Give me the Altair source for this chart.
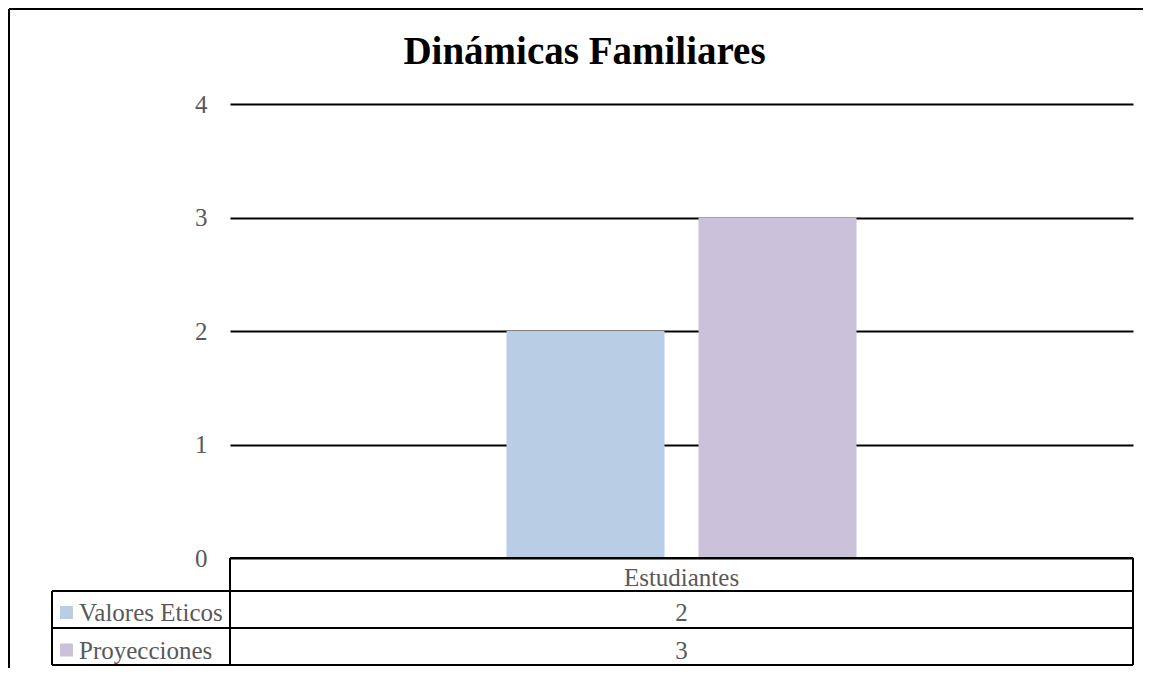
import altair as alt
import pandas as pd

# ---- data ----
categories = ["Estudiantes"]
series = ["Valores Eticos", "Proyecciones"]
values = [2, 3]
colors = ["#B9CDE5", "#CCC1DA"]
y_ticks = [0, 1, 2, 3, 4]
title_text = "Dinámicas Familiares"

df = pd.DataFrame({"cat": [categories[0]] * len(series), "serie": series, "valor": values})
cat_df = pd.DataFrame({"cat": categories})

FONT = "Liberation Serif"
GRAY = "#595959"
W, H = 903, 454
PAD_R = 10
PAD_B = 110
ROW_Y = {series[0]: 517, series[1]: 555}   # text baselines of table rows (pixels)
SWATCH_Y = {series[0]: 508.5, series[1]: 546}

color_scale = alt.Scale(domain=series, range=colors)
x_enc = alt.X("cat:N", scale=alt.Scale(paddingOuter=0.79, paddingInner=0), axis=None)

bars = alt.Chart(df).mark_bar().encode(
    x=x_enc,
    xOffset=alt.XOffset("serie:N", sort=series,
                        scale=alt.Scale(paddingInner=0.177, paddingOuter=0)),
    y=alt.Y("valor:Q", scale=alt.Scale(domain=[0, 4], nice=False),
            axis=alt.Axis(values=y_ticks, grid=True, gridColor="black", gridWidth=2,
                          gridOpacity=1, domain=False, ticks=False, title=None,
                          labelFont=FONT, labelFontSize=25, labelColor=GRAY,
                          labelPadding=23)),
    color=alt.Color("serie:N", scale=color_scale, legend=None),
)

one = alt.Data(values=[{}])

def hline(x, x2, y):
    return alt.Chart(one).mark_rule(color="black", strokeWidth=2).encode(
        x=alt.value(x), x2=alt.value(x2), y=alt.value(y))

def vline(x, y, y2):
    return alt.Chart(one).mark_rule(color="black", strokeWidth=2).encode(
        x=alt.value(x), y=alt.value(y), y2=alt.value(y2))

lines = [
    hline(0, W, H),
    hline(-178, W, 487),
    hline(-178, W, 524),
    hline(-178, W, 561),
    vline(0, H, 561),
    vline(W, H, 561),
    vline(-178, 487, 561),
    # outer chart frame: top edge and left edge (continue past the picture)
    hline(-221, W + PAD_R, -95),
    vline(-221, -95, H + PAD_B),
]

header = alt.Chart(cat_df).mark_text(
    font=FONT, fontSize=25, color=GRAY, baseline="alphabetic", align="center"
).encode(x=x_enc, y=alt.value(482), text="cat:N")

row_layers = []
for s in series:
    base = alt.Chart(df).transform_filter(alt.datum.serie == s)
    row_layers.append(base.mark_text(
        font=FONT, fontSize=25, color=GRAY, baseline="alphabetic", align="center"
    ).encode(x=x_enc, y=alt.value(ROW_Y[s]), text="valor:Q"))
    row_layers.append(base.mark_text(
        font=FONT, fontSize=25, color=GRAY, baseline="alphabetic", align="left"
    ).encode(x=alt.value(-151), y=alt.value(ROW_Y[s]), text="serie:N"))
    row_layers.append(base.mark_square(size=169, opacity=1).encode(
        x=alt.value(-163.5), y=alt.value(SWATCH_Y[s]),
        color=alt.Color("serie:N", scale=color_scale, legend=None)))

title = alt.Chart(alt.Data(values=[{"t": title_text}])).mark_text(
    font=FONT, fontSize=39, fontWeight="bold", color="black",
    baseline="alphabetic", align="center"
).encode(x=alt.value(354.5), y=alt.value(-40), text="t:N")

chart = alt.layer(bars, *lines, header, *row_layers, title).properties(
    width=W, height=H,
    autosize=alt.AutoSizeParams(type="none"),
    padding={"left": 222, "top": 96, "right": PAD_R, "bottom": PAD_B},
    background="white",
).configure_view(stroke=None)

chart.save("out.html", embed_options={"renderer": "svg", "actions": False})
